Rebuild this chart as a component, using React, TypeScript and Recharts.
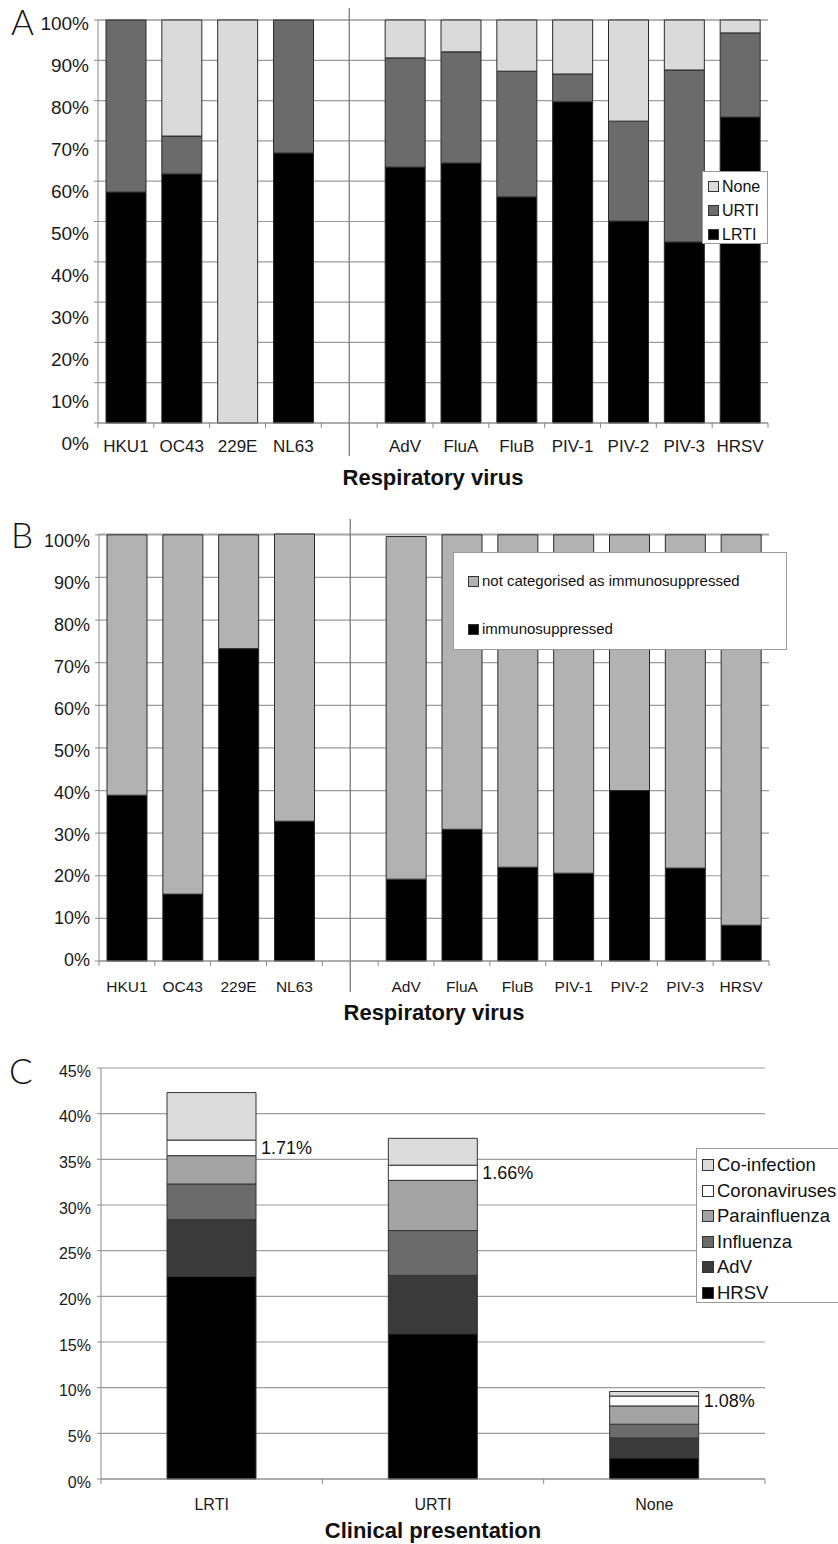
import React from 'react';
import { BarChart, Bar, XAxis, YAxis, CartesianGrid, ReferenceLine, Legend, LabelList, Label } from 'recharts';

const FONT = '"Liberation Sans", Arial, Helvetica, sans-serif';

// ---------- Panel A: clinical presentation by virus ----------
const virusCategories = ['HKU1', 'OC43', '229E', 'NL63', ' ', 'AdV', 'FluA', 'FluB', 'PIV-1', 'PIV-2', 'PIV-3', 'HRSV'];
const lrtiShare = [57.3, 61.8, 0, 67.0, null, 63.5, 64.5, 56.1, 79.7, 50.1, 44.9, 75.9];
const urtiShare = [42.7, 9.4, 0, 33.0, null, 27.1, 27.6, 31.2, 6.9, 24.8, 42.7, 20.9];
const noneShare = [0, 28.8, 100, 0, null, 9.4, 7.9, 12.7, 13.4, 25.1, 12.4, 3.2];
const ticks100 = [0, 10, 20, 30, 40, 50, 60, 70, 80, 90, 100];

// ---------- Panel B: immunosuppression by virus ----------
const immunoShare = [38.9, 15.7, 73.3, 32.8, null, 19.2, 30.9, 22.0, 20.6, 40.0, 21.8, 8.4];
const notImmunoShare = [61.1, 84.3, 26.7, 67.4, null, 80.4, 69.1, 78.0, 79.4, 60.0, 78.2, 91.6];

// ---------- Panel C: virus by clinical presentation ----------
const presentations = ['LRTI', 'URTI', 'None'];
const hrsvPct = [22.2, 15.9, 2.3];
const advPct = [6.2, 6.4, 2.2];
const influenzaPct = [3.9, 4.9, 1.5];
const parainfluenzaPct = [3.1, 5.5, 2.0];
const coronavirusPct = [1.71, 1.66, 1.08];
const coinfectionPct = [5.2, 2.94, 0.5];
const ticks45 = [0, 5, 10, 15, 20, 25, 30, 35, 40, 45];

const dataA = virusCategories.map((v, i) => ({ virus: v, LRTI: lrtiShare[i], URTI: urtiShare[i], None: noneShare[i] }));
const dataB = virusCategories.map((v, i) => ({ virus: v, immuno: immunoShare[i], notImmuno: notImmunoShare[i] }));
const dataC = presentations.map((p, i) => ({
  presentation: p,
  HRSV: hrsvPct[i],
  AdV: advPct[i],
  Influenza: influenzaPct[i],
  Parainfluenza: parainfluenzaPct[i],
  Coronaviruses: coronavirusPct[i],
  Coinfection: coinfectionPct[i],
}));

const GRID = '#9c9c9c';
const AXIS = '#8a8a8a';

const makeYTick = (fontSize: number, shift: (v: number) => number) => (props: any) => {
  const { x, y, payload } = props;
  return (
    <text x={x} y={y} dy={shift(payload.value)} textAnchor="end" fontSize={fontSize} fontFamily={FONT} fill="#1a1a1a">
      {payload.value}%
    </text>
  );
};

const makeXTick = (fontSize: number, dy: number, step: number, count: number) => (props: any) => {
  const { x, y, payload, index } = props;
  const axisY = y - 8;
  return (
    <g>
      <line x1={x - step / 2} x2={x - step / 2} y1={axisY} y2={axisY + 5} stroke={AXIS} />
      {index === count - 1 && <line x1={x + step / 2} x2={x + step / 2} y1={axisY} y2={axisY + 5} stroke={AXIS} />}
      <text x={x} y={y} dy={dy} textAnchor="middle" fontSize={fontSize} fontFamily={FONT} fill="#1a1a1a">
        {payload.value}
      </text>
    </g>
  );
};

const separatorShape = (above: number, below: number) => (p: any) => {
  const top = Math.min(p.y1, p.y2) - above;
  const bottom = Math.max(p.y1, p.y2) + below;
  return <line x1={p.x1} x2={p.x2} y1={top} y2={bottom} stroke="#7a7a7a" strokeWidth={1.3} />;
};

const swatch = (color: string, size: number) => (
  <span
    style={{
      display: 'inline-block',
      width: size,
      height: size,
      background: color,
      border: '1px solid #333',
      boxSizing: 'border-box',
      marginRight: 3,
      verticalAlign: 'middle',
    }}
  />
);

const LegendA = () => (
  <div
    style={{
      width: 66,
      height: 73,
      background: '#fff',
      border: '1px solid #999',
      boxSizing: 'border-box',
      fontFamily: FONT,
      fontSize: 16,
      color: '#111',
      paddingTop: 2,
      paddingLeft: 5,
    }}
  >
    {[['None', '#dadada'], ['URTI', '#6b6b6b'], ['LRTI', '#000']].map(([n, c]) => (
      <div key={n} style={{ height: 24, lineHeight: '24px', whiteSpace: 'nowrap' }}>
        {swatch(c, 11)}
        <span style={{ verticalAlign: 'middle' }}>{n}</span>
      </div>
    ))}
  </div>
);

const LegendB = () => (
  <div
    style={{
      width: 334,
      height: 98,
      background: '#fff',
      border: '1px solid #999',
      boxSizing: 'border-box',
      fontFamily: FONT,
      fontSize: 15,
      color: '#111',
      paddingLeft: 14,
      paddingTop: 15,
    }}
  >
    {[['not categorised as immunosuppressed', '#b2b2b2'], ['immunosuppressed', '#000']].map(([n, c]) => (
      <div key={n} style={{ height: 24, lineHeight: '24px', marginBottom: 24, whiteSpace: 'nowrap' }}>
        {swatch(c, 11)}
        <span style={{ verticalAlign: 'middle' }}>{n}</span>
      </div>
    ))}
  </div>
);

const seriesC: [string, string, string][] = [
  ['Coinfection', 'Co-infection', '#dcdcdc'],
  ['Coronaviruses', 'Coronaviruses', '#ffffff'],
  ['Parainfluenza', 'Parainfluenza', '#a3a3a3'],
  ['Influenza', 'Influenza', '#6b6b6b'],
  ['AdV', 'AdV', '#3a3a3a'],
  ['HRSV', 'HRSV', '#000000'],
];

const LegendC = () => (
  <div
    style={{
      width: 170,
      height: 155,
      background: '#fff',
      border: '1px solid #999',
      boxSizing: 'border-box',
      fontFamily: FONT,
      fontSize: 18.5,
      color: '#111',
      paddingLeft: 5,
      paddingTop: 2,
    }}
  >
    {seriesC.map(([k, n, c]) => (
      <div key={k} style={{ height: 25.6, lineHeight: '25.6px', whiteSpace: 'nowrap' }}>
        {swatch(c, 12)}
        <span style={{ verticalAlign: 'middle' }}>{n}</span>
      </div>
    ))}
  </div>
);

const stepAB = 670 / 12;
const stepC = 664 / 3;

const letterStyle = (left: number, top: number): React.CSSProperties => ({
  position: 'absolute',
  left,
  top,
  fontSize: 35,
  lineHeight: '30px',
  height: 30,
  fontFamily: "Lato, 'Open Sans', sans-serif",
  fontWeight: 300,
  color: '#111',
});

export default function App() {
  return (
    <div style={{ position: 'absolute', left: 0, top: 0, width: 838, height: 1544, overflow: 'hidden', background: '#fff', fontFamily: FONT }}>
      {/* Panel A */}
      <div style={{ position: 'absolute', left: 0, top: 0 }}>
        <BarChart width={838} height={500} data={dataA} margin={{ top: 20, right: 70, bottom: 0, left: 0 }} barCategoryGap={0}>
          <CartesianGrid vertical={false} stroke={GRID} strokeWidth={1.2} />
          <YAxis
            width={98}
            domain={[0, 100]}
            ticks={ticks100}
            interval={0}
            axisLine={{ stroke: AXIS }}
            tickLine={{ stroke: AXIS }}
            tickSize={4}
            tickMargin={5}
            tick={makeYTick(19, (v) => 3 + (100 - v) * 0.17 + 6.7)}
          />
          <XAxis
            dataKey="virus"
            height={77}
            interval={0}
            axisLine={{ stroke: AXIS }}
            tickLine={false}
            tickSize={6}
            tickMargin={2}
            tick={makeXTick(17, 21, stepAB, virusCategories.length)}
          >
            <Label value="Respiratory virus" position="insideBottom" offset={15} fontSize={22} fontWeight="bold" fontFamily={FONT} fill="#111" />
          </XAxis>
          <ReferenceLine x=" " stroke="#7a7a7a" shape={separatorShape(12, 33)} />
          <Bar dataKey="LRTI" stackId="a" fill="#000000" stroke="#2a2a2a" strokeWidth={1} barSize={40} isAnimationActive={false} />
          <Bar dataKey="URTI" stackId="a" fill="#6b6b6b" stroke="#2a2a2a" strokeWidth={1} barSize={40} isAnimationActive={false} />
          <Bar dataKey="None" stackId="a" fill="#dadada" stroke="#2a2a2a" strokeWidth={1} barSize={40} isAnimationActive={false} />
          <Legend
            layout="vertical"
            align="center"
            verticalAlign="middle"
            wrapperStyle={{ left: 702, top: 171, width: 66, height: 73 }}
            content={() => <LegendA />}
          />
        </BarChart>
      </div>

      {/* Panel B */}
      <div style={{ position: 'absolute', left: 0, top: 500 }}>
        <BarChart width={838} height={530} data={dataB} margin={{ top: 34, right: 69, bottom: 0, left: 0 }} barCategoryGap={0}>
          <CartesianGrid vertical={false} stroke={GRID} strokeWidth={1.2} />
          <YAxis
            width={99}
            domain={[0, 100]}
            ticks={ticks100}
            interval={0}
            axisLine={{ stroke: AXIS }}
            tickLine={{ stroke: AXIS }}
            tickSize={4}
            tickMargin={5}
            tick={makeYTick(18, (v) => 6 - (100 - v) * 0.07 + 6.3)}
          />
          <XAxis
            dataKey="virus"
            height={69}
            interval={0}
            axisLine={{ stroke: AXIS }}
            tickLine={false}
            tickSize={6}
            tickMargin={2}
            tick={makeXTick(15.5, 23, stepAB, virusCategories.length)}
          >
            <Label value="Respiratory virus" position="insideBottom" offset={10} fontSize={22} fontWeight="bold" fontFamily={FONT} fill="#111" />
          </XAxis>
          <ReferenceLine x=" " stroke="#7a7a7a" shape={separatorShape(15, 31)} />
          <Bar dataKey="immuno" stackId="b" fill="#000000" stroke="#2a2a2a" strokeWidth={1} barSize={40} isAnimationActive={false} />
          <Bar dataKey="notImmuno" stackId="b" fill="#b2b2b2" stroke="#2a2a2a" strokeWidth={1} barSize={40} isAnimationActive={false} />
          <Legend
            layout="vertical"
            align="center"
            verticalAlign="middle"
            wrapperStyle={{ left: 453, top: 52, width: 334, height: 98 }}
            content={() => <LegendB />}
          />
        </BarChart>
      </div>

      {/* Panel C */}
      <div style={{ position: 'absolute', left: 0, top: 1030 }}>
        <BarChart width={838} height={514} data={dataC} margin={{ top: 38, right: 73, bottom: 0, left: 0 }}>
          <CartesianGrid vertical={false} stroke={GRID} strokeWidth={1.2} />
          <YAxis
            width={101}
            domain={[0, 45]}
            ticks={ticks45}
            interval={0}
            axisLine={{ stroke: AXIS }}
            tickLine={{ stroke: AXIS }}
            tickSize={4}
            tickMargin={6}
            tick={makeYTick(16, () => 3 + 5.6)}
          />
          <XAxis
            dataKey="presentation"
            height={65}
            interval={0}
            axisLine={{ stroke: AXIS }}
            tickLine={false}
            tickSize={6}
            tickMargin={2}
            tick={makeXTick(16, 23, stepC, presentations.length)}
          >
            <Label value="Clinical presentation" position="insideBottom" offset={6} fontSize={22} fontWeight="bold" fontFamily={FONT} fill="#111" />
          </XAxis>
          {seriesC
            .slice()
            .reverse()
            .map(([k, , c]) => (
              <Bar key={k} dataKey={k} stackId="c" fill={c} stroke="#333" strokeWidth={1} barSize={89} isAnimationActive={false}>
                {k === 'Coronaviruses' && (
                  <LabelList
                    dataKey="Coronaviruses"
                    position="right"
                    offset={5}
                    fontSize={18}
                    fontFamily={FONT}
                    fill="#111"
                    formatter={(v: any) => `${Number(v).toFixed(2)}%`}
                  />
                )}
              </Bar>
            ))}
          <Legend
            layout="vertical"
            align="center"
            verticalAlign="middle"
            wrapperStyle={{ left: 696, top: 118, width: 170, height: 155 }}
            content={() => <LegendC />}
          />
        </BarChart>
      </div>

      {/* Panel letters */}
      <div style={letterStyle(11, 6)}>A</div>
      <div style={letterStyle(11, 519)}>B</div>
      <div style={letterStyle(9, 1055)}>C</div>
    </div>
  );
}
